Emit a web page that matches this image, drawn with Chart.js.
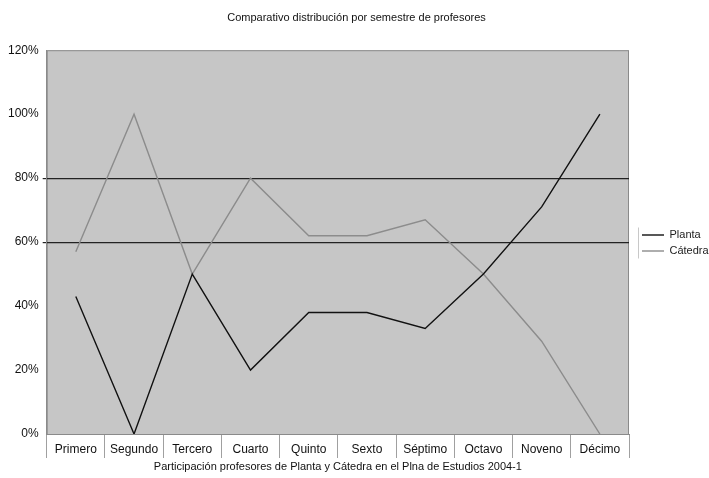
<!DOCTYPE html>
<html>
<head>
<meta charset="utf-8">
<script src="https://cdn.jsdelivr.net/npm/chart.js@4.4.0/dist/chart.umd.min.js"></script>
<style>
  html, body { margin: 0; padding: 0; background: #fff; }
  #wrap { width: 709px; height: 478px; }
</style>
</head>
<body>
<div id="wrap"><canvas id="chart" width="709" height="478"></canvas></div>
<script>
// Semesters and share of professors (%) per type
const semestres = ['Primero', 'Segundo', 'Tercero', 'Cuarto', 'Quinto', 'Sexto', 'Séptimo', 'Octavo', 'Noveno', 'Décimo'];
const planta = [43, 0, 50, 20, 38, 38, 33, 50, 71, 100];
const catedra = [57, 100, 50, 80, 62, 62, 67, 50, 29, 0];
const yTicks = [0, 20, 40, 60, 80, 100, 120];
const gridMarks = [60, 80];

const FONT = '"Liberation Sans", Arial, sans-serif';
const LEGEND_WIDTH = 80;

// Gray plot area with a thin frame, like the old spreadsheet charts
const plotBackground = {
  id: 'plotBackground',
  beforeDraw(chart) {
    const { ctx, chartArea: a } = chart;
    ctx.save();
    ctx.fillStyle = '#c6c6c6';
    ctx.fillRect(a.left, a.top, a.width, a.height);
    ctx.strokeStyle = '#8a8a8a';
    ctx.lineWidth = 1;
    ctx.strokeRect(a.left + 0.5, a.top + 0.5, a.width - 1, a.height);
    ctx.restore();
  }
};

// Fix the legend column width so the plot ends where the reference does,
// then nudge the legend box a little right / down
const legendPlacement = {
  id: 'legendPlacement',
  beforeUpdate(chart) {
    const lg = chart.legend;
    if (!lg || lg._fixedFit) return;
    const fit = lg.fit;
    lg.fit = function() {
      fit.call(this);
      this.width = LEGEND_WIDTH;
    };
    lg._fixedFit = true;
  },
  afterLayout(chart) {
    const lg = chart.legend;
    if (!lg) return;
    lg.left += 8;
    lg.top += 6;
    lg.bottom += 6;
  },
  afterDraw(chart) {
    // left edge of the legend frame (the rest falls outside the picture)
    const items = chart.legend && chart.legend.legendHitBoxes;
    if (!items || !items.length) return;
    const first = items[0], last = items[items.length - 1];
    const { ctx } = chart;
    ctx.save();
    ctx.strokeStyle = '#c8c8c8';
    ctx.lineWidth = 1;
    ctx.beginPath();
    ctx.moveTo(chart.legend.left + 1.5, first.top - 2);
    ctx.lineTo(chart.legend.left + 1.5, last.top + last.height + 2);
    ctx.stroke();
    ctx.restore();
  }
};

new Chart(document.getElementById('chart'), {
  type: 'line',
  data: {
    labels: semestres,
    datasets: [{
      label: 'Planta',
      data: planta,
      borderColor: '#111',
      borderWidth: 1.4,
      pointRadius: 0,
      tension: 0
    }, {
      label: 'Cátedra',
      data: catedra,
      borderColor: '#8c8c8c',
      borderWidth: 1.4,
      pointRadius: 0,
      tension: 0
    }]
  },
  options: {
    responsive: false,
    animation: false,
    layout: { padding: { left: 4, right: 0, top: 0, bottom: 4 } },
    plugins: {
      title: {
        display: true,
        text: 'Comparativo distribución por semestre de profesores',
        color: '#111',
        font: { family: FONT, size: 11, weight: 'normal' },
        padding: { top: 11, bottom: 26 }
      },
      legend: {
        position: 'right',
        labels: {
          usePointStyle: true,
          pointStyle: 'line',
          pointStyleWidth: 22,
          boxWidth: 22,
          padding: 5,
          color: '#222',
          font: { family: FONT, size: 11 }
        }
      },
      tooltip: { enabled: false }
    },
    scales: {
      x: {
        offset: true,
        afterFit(scale) {
          scale.height = 40;
        },
        grid: {
          offset: true,
          drawOnChartArea: false,
          tickLength: 24,
          color: '#a0a0a0'
        },
        border: { color: '#8a8a8a' },
        ticks: {
          color: '#111',
          padding: -16,
          font: { family: FONT, size: 12 }
        },
        title: {
          display: true,
          text: 'Participación profesores de Planta y Cátedra en el Plna de Estudios 2004-1',
          color: '#111',
          font: { family: FONT, size: 11 },
          padding: { top: 2, bottom: 0 }
        }
      },
      y: {
        min: 0,
        max: 120,
        afterBuildTicks(scale) {
          scale.ticks = yTicks.map(v => ({ value: v }));
        },
        grid: {
          color: ctx => gridMarks.includes(ctx.tick && ctx.tick.value) ? '#222' : 'rgba(0,0,0,0)',
          lineWidth: 1.2,
          tickLength: 4
        },
        border: { color: '#8a8a8a' },
        ticks: {
          color: '#111',
          padding: 4,
          font: { family: FONT, size: 12 },
          callback: v => v + '%'
        }
      }
    }
  },
  plugins: [plotBackground, legendPlacement]
});
</script>
</body>
</html>
